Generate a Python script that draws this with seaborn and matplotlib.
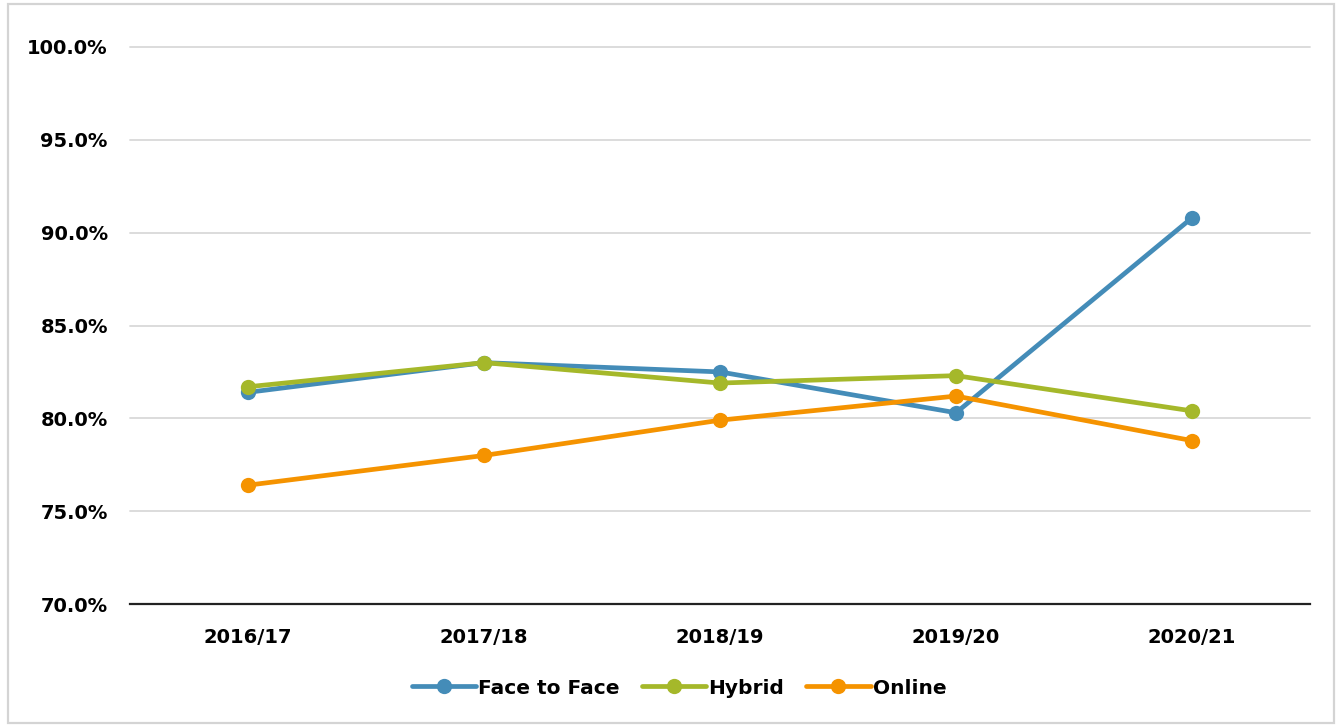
import pandas as pd
import matplotlib.pyplot as plt
import seaborn as sns
from matplotlib.patches import Rectangle
from matplotlib.ticker import PercentFormatter


# Data
years = ["2016/17", "2017/18", "2018/19", "2019/20", "2020/21"]
face_to_face = [81.4, 83.0, 82.5, 80.3, 90.8]
hybrid = [81.7, 83.0, 81.9, 82.3, 80.4]
online = [76.4, 78.0, 79.9, 81.2, 78.8]

series = ["Face to Face", "Hybrid", "Online"]
colors = ["#448cb8", "#a5b82a", "#f59300"]

df = pd.DataFrame({
    "Year": years * 3,
    "Rate": face_to_face + hybrid + online,
    "Mode": [s for s in series for _ in years],
})

sns.set_theme(style="white")
plt.rcParams["font.family"] = ["DejaVu Sans"]
plt.rcParams["font.weight"] = "bold"
plt.rcParams["text.color"] = "black"
plt.rcParams["xtick.color"] = "black"
plt.rcParams["ytick.color"] = "black"

fig = plt.figure(figsize=(13.42, 7.27), dpi=100)
ax = fig.add_axes([130 / 1342, 1 - 604 / 727, 1180 / 1342, 557 / 727])

sns.lineplot(data=df, x="Year", y="Rate", hue="Mode", hue_order=series,
             palette=colors, marker="o", markersize=11, markeredgewidth=0,
             linewidth=3.4, sort=False, ax=ax)

ax.set_xlim(-0.5, 4.5)
ax.set_ylim(70, 100)
ax.set_yticks([70, 75, 80, 85, 90, 95, 100])
ax.yaxis.set_major_formatter(PercentFormatter(decimals=1))
ax.grid(axis="y", color="#d9d9d9", linewidth=1.3)
for gl in ax.get_ygridlines():
    gl.set_clip_on(False)
ax.set_axisbelow(True)
for side in ["top", "right", "left"]:
    ax.spines[side].set_visible(False)
ax.spines["bottom"].set_color("#222222")
ax.spines["bottom"].set_linewidth(1.6)
ax.tick_params(axis="both", length=0, labelsize=14, colors="black")
ax.tick_params(axis="y", pad=16)
ax.tick_params(axis="x", pad=17)
for lbl in ax.get_xticklabels() + ax.get_yticklabels():
    lbl.set_fontweight("bold")
ax.set_xlabel("")
ax.set_ylabel("")

handles, labels = ax.get_legend_handles_labels()
ax.get_legend().remove()
leg = fig.legend(handles, labels, loc="center", bbox_to_anchor=(679 / 1342, 1 - 688 / 727),
                 ncol=3, frameon=False, fontsize=14.5, handlelength=3.2,
                 columnspacing=1.1, handletextpad=0.1)
for t in leg.get_texts():
    t.set_fontweight("bold")
    t.set_color("black")

# outer border of the chart
fig.patches.append(Rectangle((8 / 1342, 4 / 727), 1326 / 1342, 719 / 727,
                             transform=fig.transFigure, fill=False,
                             edgecolor="#d4d4d4", linewidth=1.6))

fig.savefig("out.png", dpi=100)
